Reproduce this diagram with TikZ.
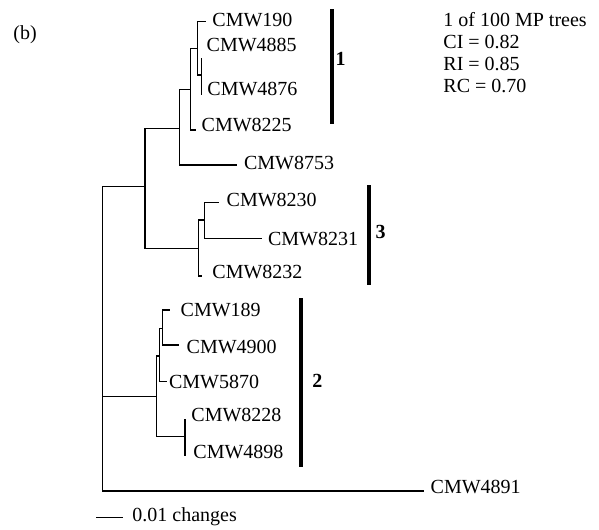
\documentclass[tikz,border=0pt]{standalone}
\usepackage{fontspec}
\setmainfont{Liberation Serif}
\begin{document}
\begin{tikzpicture}[x=0.6pt,y=-0.6pt,line width=0.85pt,line cap=rect,
  leaf/.style={anchor=base west,inner sep=0pt,font=\fontsize{12}{14}\selectfont},
  grp/.style={leaf,font=\fontsize{12}{14}\selectfont\bfseries},
  cladebar/.style={line width=2.4pt,line cap=butt}]

\useasboundingbox (0,0) rectangle (599,529) ;

\coordinate (pt_root) at (102.7,396.7) ;
\coordinate (n_a) at (201.7,75) ;
\coordinate (n_b) at (197.3,48.3) ;
\coordinate (n_c) at (190.7,89.3) ;
\coordinate (n_d) at (179.3,128.3) ;
\coordinate (n_e) at (204.3,220) ;
\coordinate (n_f) at (198.3,248.3) ;
\coordinate (n_g) at (145,186.7) ;
\coordinate (n_h) at (162.7,328.3) ;
\coordinate (n_i) at (159.3,356) ;
\coordinate (n_j) at (185,436.7) ;
\coordinate (n_k) at (156.7,396.7) ;

\coordinate (t_190) at (205,21.7) ;
\coordinate (t_4885) at (201.7,58.3) ;
\coordinate (t_4876) at (201.7,94.3) ;
\coordinate (t_8225) at (195,130) ;
\coordinate (t_8753) at (236.7,165) ;
\coordinate (t_8230) at (218.3,202.7) ;
\coordinate (t_8231) at (261.7,238.3) ;
\coordinate (t_8232) at (201.7,276) ;
\coordinate (t_189) at (169.3,310) ;
\coordinate (t_4900) at (178.3,345) ;
\coordinate (t_5870) at (166.7,381.7) ;
\coordinate (t_8228) at (185,420) ;
\coordinate (t_4898) at (185,455) ;
\coordinate (t_4891) at (423.3,491) ;

\draw (n_a) |- (t_4885) ;
\draw (n_a) |- (t_4876) ;
\draw (n_b) |- (t_190) ;
\draw (n_b) |- (n_a) ;
\draw (n_c) |- (n_b) ;
\draw (n_c) |- (t_8225) ;
\draw (n_d) |- (n_c) ;
\draw (n_d) |- (t_8753) ;

\draw (n_e) |- (t_8230) ;
\draw (n_e) |- (t_8231) ;
\draw (n_f) |- (n_e) ;
\draw (n_f) |- (t_8232) ;
\draw (n_g) |- (n_d) ;
\draw (n_g) |- (n_f) ;

\draw (n_h) |- (t_189) ;
\draw (n_h) |- (t_4900) ;
\draw (n_i) |- (n_h) ;
\draw (n_i) |- (t_5870) ;
\draw (n_j) |- (t_8228) ;
\draw (n_j) |- (t_4898) ;
\draw (n_k) |- (n_i) ;
\draw (n_k) |- (n_j) ;

\draw (pt_root) |- (n_g) ;
\draw (pt_root) -- (n_k) ;
\draw (pt_root) |- (t_4891) ;

\node[leaf] (l_190) at (211.7,26.3) {CMW190} ;
\node[leaf] (l_4885) at (206,51.7) {CMW4885} ;
\node[leaf] (l_4876) at (206.7,95) {CMW4876} ;
\node[leaf] (l_8225) at (201,131.7) {CMW8225} ;
\node[leaf] (l_8753) at (243.3,169.3) {CMW8753} ;
\node[leaf] (l_8230) at (226,206.7) {CMW8230} ;
\node[leaf] (l_8231) at (267.3,245) {CMW8231} ;
\node[leaf] (l_8232) at (211.7,278.3) {CMW8232} ;
\node[leaf] (l_189) at (180,316.7) {CMW189} ;
\node[leaf] (l_4900) at (186,353.3) {CMW4900} ;
\node[leaf] (l_5870) at (168.3,388.3) {CMW5870} ;
\node[leaf] (l_8228) at (190.7,421.7) {CMW8228} ;
\node[leaf] (l_4898) at (192.7,458.3) {CMW4898} ;
\node[leaf] (l_4891) at (430,493.3) {CMW4891} ;

\draw[cladebar] (332,9.3) -- (332,124) ;
\node[grp] (g_1) at (335,65) {1} ;
\draw[cladebar] (368.7,185) -- (368.7,285) ;
\node[grp] (g_3) at (375,238.3) {3} ;
\draw[cladebar] (301.3,298.3) -- (301.3,466.7) ;
\node[grp] (g_2) at (311.7,387.3) {2} ;

\coordinate (sb_a) at (96,517.3) ;
\coordinate (sb_b) at (122.7,517.3) ;
\draw[line cap=butt] (sb_a) -- (sb_b) ;
\node[leaf] (l_scale) at (131.7,521.7) {0.01 changes} ;

\node[leaf] (l_panel) at (12.7,39.3) {(b)} ;

\node[leaf] (l_trees) at (442.7,26.3) {1 of 100 MP trees} ;
\node[leaf] (l_ci) at (442.7,48.5) {CI = 0.82} ;
\node[leaf] (l_ri) at (442.7,70.7) {RI = 0.85} ;
\node[leaf] (l_rc) at (442.7,92.9) {RC = 0.70} ;

\end{tikzpicture}
\end{document}
